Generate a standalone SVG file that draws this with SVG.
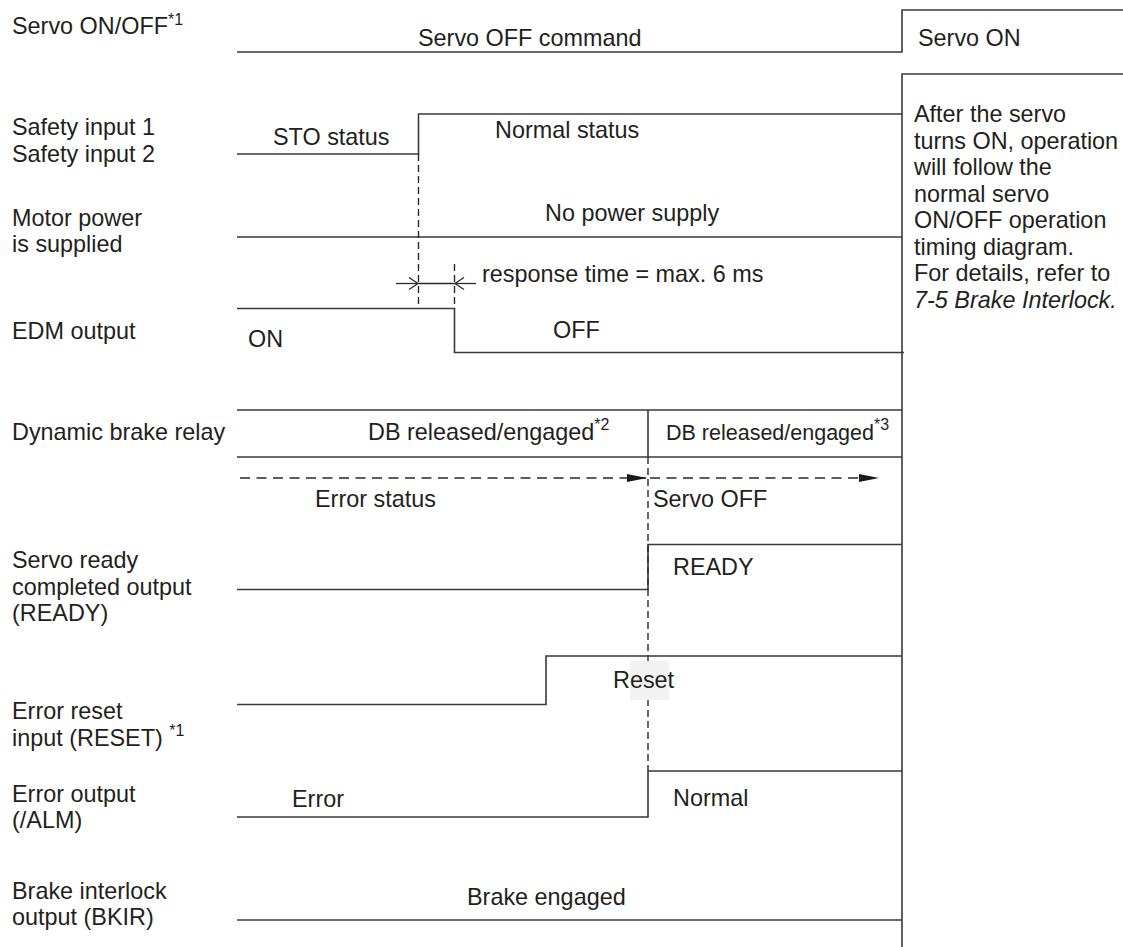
<svg xmlns="http://www.w3.org/2000/svg" width="1123" height="947" viewBox="0 0 1123 947">
<defs>
<style>
text{font-family:"Liberation Sans",Arial,sans-serif;font-size:23.4px;fill:#231f20}
.sup{font-size:16px}
.w{fill:none;stroke:#3a3a3a;stroke-width:1.6}
.dv{fill:none;stroke:#2a2a2a;stroke-width:1.4;stroke-dasharray:7 4}
.dh{fill:none;stroke:#2a2a2a;stroke-width:1.6;stroke-dasharray:10 6.5}
.it{font-style:italic}
</style>
<marker id="tri" viewBox="0 0 20 10" refX="20" refY="5" markerWidth="20" markerHeight="10" markerUnits="userSpaceOnUse" orient="auto">
<path d="M0,1 L20,5 L0,9 Z" fill="#1a1a1a"/>
</marker>
<marker id="chev" viewBox="0 0 10 14" refX="10" refY="7" markerWidth="10" markerHeight="14" markerUnits="userSpaceOnUse" orient="auto">
<path d="M1,1 L10,7 L1,13" fill="none" stroke="#2a2a2a" stroke-width="1.3"/>
</marker>
</defs>
<rect width="1123" height="947" fill="#ffffff"/>

<g id="servo-onoff">
<text x="12" y="34">Servo ON/OFF<tspan class="sup" dy="-9">*1</tspan></text>
<path class="w" d="M237,52 H902 V10 H1123"/>
<text x="418" y="46">Servo OFF command</text>
<text x="918" y="46">Servo ON</text>
</g>

<g id="note-box">
<path class="w" d="M902,947 V74 H1123"/>
<text x="914" y="122">After the servo</text>
<text x="914" y="148.5">turns ON, operation</text>
<text x="914" y="175">will follow the</text>
<text x="914" y="201.5">normal servo</text>
<text x="914" y="228">ON/OFF operation</text>
<text x="914" y="254.5">timing diagram.</text>
<text x="914" y="281">For details, refer to</text>
<text x="914" y="308" class="it">7-5 Brake Interlock.</text>
</g>

<g id="safety-input">
<text x="12" y="135">Safety input 1</text>
<text x="12" y="162">Safety input 2</text>
<path class="w" d="M237,154 H418.5 V114 H902"/>
<text x="273" y="145">STO status</text>
<text x="495" y="138">Normal status</text>
</g>

<g id="motor-power">
<text x="12" y="226">Motor power</text>
<text x="12" y="252">is supplied</text>
<path class="w" d="M237,237 H902"/>
<text x="545" y="221">No power supply</text>
</g>

<g id="edm-output">
<text x="12" y="339">EDM output</text>
<path class="w" d="M237,308.5 H454.5 V352.5 H904"/>
<text x="248" y="347">ON</text>
<text x="553" y="338">OFF</text>
</g>

<g id="db-relay">
<text x="12" y="440">Dynamic brake relay</text>
<path class="w" d="M237,410 H902 M237,457 H902 M648,410 V457"/>
<text x="368" y="440">DB released/engaged<tspan class="sup" dy="-10">*2</tspan></text>
<text x="666" y="440" style="font-size:21.5px">DB released/engaged<tspan class="sup" dy="-10">*3</tspan></text>
</g>

<g id="servo-ready">
<text x="12" y="568">Servo ready</text>
<text x="12" y="595">completed output</text>
<text x="12" y="621">(READY)</text>
<path class="w" d="M237,589.5 H648 V544.5 H902"/>
<text x="673" y="575">READY</text>
</g>

<g id="connectors">
<path class="dv" d="M418.5,154 V308.5"/>
<path class="dv" d="M454.5,264 V308.5"/>
<path fill="none" stroke="#2a2a2a" stroke-width="1.3" d="M396,283.5 H418" marker-end="url(#chev)"/>
<path fill="none" stroke="#2a2a2a" stroke-width="1.3" d="M418,283.5 H455"/>
<path fill="none" stroke="#2a2a2a" stroke-width="1.3" d="M476,283.5 H455" marker-end="url(#chev)"/>
<path class="dh" d="M240,478 H647" marker-end="url(#tri)"/>
<path class="dh" d="M650,478 H879" marker-end="url(#tri)"/>
<path class="dv" d="M648,457 V771"/>
<text x="482" y="282">response time = max. 6 ms</text>
<text x="315" y="507">Error status</text>
<text x="653" y="507">Servo OFF</text>
</g>

<g id="error-reset">
<text x="12" y="719">Error reset</text>
<text x="12" y="746">input (RESET) <tspan class="sup" dy="-10">*1</tspan></text>
<path class="w" d="M237,704.5 H546 V656 H902"/>
<rect x="630" y="661" width="39" height="39" fill="#f1f2f1"/>
<text x="613" y="688">Reset</text>
</g>

<g id="error-output">
<text x="12" y="802">Error output</text>
<text x="12" y="828">(/ALM)</text>
<path class="w" d="M237,817 H648 V771 H902"/>
<text x="292" y="807">Error</text>
<text x="673" y="806">Normal</text>
</g>

<g id="brake-interlock">
<text x="12" y="899">Brake interlock</text>
<text x="12" y="925">output (BKIR)</text>
<path class="w" d="M237,920 H902"/>
<text x="467" y="905">Brake engaged</text>
</g>
</svg>
